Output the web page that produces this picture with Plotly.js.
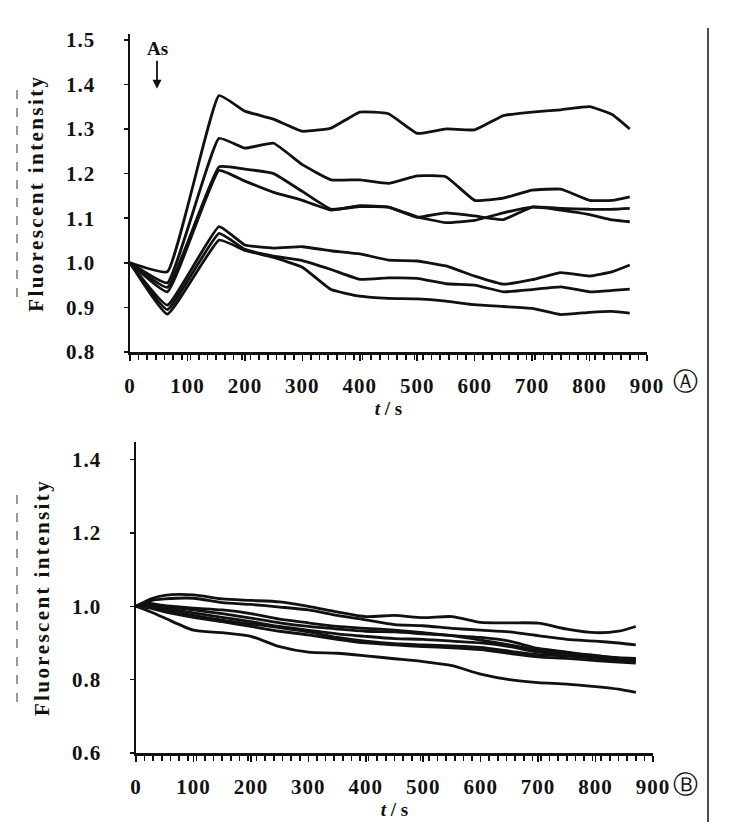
<!DOCTYPE html>
<html>
<head>
<meta charset="utf-8">
<script src="https://cdn.plot.ly/plotly-3.0.1.min.js"></script>
<style>
html,body{margin:0;padding:0;background:#fff;}
#chart{width:729px;height:840px;}
#chart text.ytitle, #chart text.y2title {letter-spacing: 2.4px;}
#chart .xtick text, #chart .x2tick text, #chart .ytick text, #chart .y2tick text {letter-spacing: 1px;}
</style>
</head>
<body>
<div id="chart"></div>
<script>
// ---- Panel A (arsenic added) ----
const tA = [0, 65, 155, 200, 250, 300, 350, 400, 450, 500, 550, 600, 650, 700, 750, 800, 840, 870];
const a1 = [1.0, 0.98, 1.375, 1.34, 1.322, 1.295, 1.302, 1.338, 1.334, 1.29, 1.30, 1.298, 1.33, 1.338, 1.343, 1.35, 1.332, 1.30];
const a2 = [1.0, 0.955, 1.279, 1.257, 1.268, 1.22, 1.186, 1.186, 1.178, 1.195, 1.193, 1.14, 1.145, 1.163, 1.165, 1.14, 1.14, 1.148];
const a3 = [1.0, 0.945, 1.215, 1.21, 1.20, 1.16, 1.12, 1.126, 1.125, 1.102, 1.112, 1.105, 1.097, 1.125, 1.118, 1.108, 1.096, 1.092];
const a4 = [1.0, 0.935, 1.207, 1.183, 1.158, 1.14, 1.118, 1.128, 1.125, 1.103, 1.09, 1.095, 1.112, 1.125, 1.122, 1.12, 1.12, 1.122];
const a5 = [1.0, 0.905, 1.081, 1.04, 1.033, 1.036, 1.027, 1.02, 1.006, 1.004, 0.993, 0.97, 0.952, 0.962, 0.978, 0.97, 0.98, 0.995];
const a6 = [1.0, 0.895, 1.066, 1.03, 1.015, 1.005, 0.985, 0.963, 0.966, 0.965, 0.953, 0.95, 0.935, 0.94, 0.946, 0.935, 0.938, 0.941];
const a7 = [1.0, 0.885, 1.051, 1.028, 1.012, 0.99, 0.94, 0.925, 0.92, 0.919, 0.914, 0.906, 0.902, 0.898, 0.884, 0.889, 0.891, 0.887];
const seriesA = [a1, a2, a3, a4, a5, a6, a7];

// ---- Panel B (control) ----
const tB = [0, 25, 50, 100, 150, 200, 250, 300, 350, 400, 450, 500, 550, 600, 650, 700, 750, 800, 840, 870];
const b1 = [1.0, 1.02, 1.03, 1.031, 1.02, 1.016, 1.012, 1.0, 0.985, 0.972, 0.975, 0.969, 0.972, 0.956, 0.955, 0.954, 0.938, 0.928, 0.932, 0.945];
const b2 = [1.0, 1.015, 1.02, 1.022, 1.01, 1.005, 0.998, 0.99, 0.975, 0.963, 0.95, 0.947, 0.94, 0.935, 0.93, 0.92, 0.91, 0.905, 0.9, 0.895];
const b3 = [1.0, 1.008, 1.0, 0.99, 0.98, 0.968, 0.955, 0.945, 0.938, 0.932, 0.93, 0.925, 0.92, 0.915, 0.905, 0.885, 0.875, 0.865, 0.86, 0.858];
const b4 = [1.0, 1.0, 0.995, 0.982, 0.97, 0.958, 0.945, 0.935, 0.925, 0.918, 0.912, 0.91, 0.905, 0.9, 0.89, 0.875, 0.868, 0.86, 0.855, 0.852];
const b5 = [1.0, 0.998, 0.99, 0.975, 0.962, 0.952, 0.942, 0.93, 0.915, 0.905, 0.898, 0.895, 0.892, 0.888, 0.878, 0.868, 0.865, 0.858, 0.852, 0.85];
const b6 = [1.0, 1.005, 1.002, 0.995, 0.99, 0.98, 0.965, 0.955, 0.945, 0.94, 0.935, 0.928, 0.92, 0.908, 0.895, 0.88, 0.872, 0.866, 0.858, 0.855];
const b7 = [1.0, 0.995, 0.985, 0.97, 0.958, 0.945, 0.932, 0.922, 0.91, 0.9, 0.895, 0.89, 0.887, 0.882, 0.872, 0.862, 0.858, 0.852, 0.848, 0.845];
const b8 = [1.0, 0.985, 0.968, 0.935, 0.928, 0.918, 0.89, 0.875, 0.872, 0.865, 0.857, 0.849, 0.838, 0.815, 0.8, 0.792, 0.788, 0.781, 0.774, 0.765];
const seriesB = [b1, b2, b3, b4, b5, b6, b7, b8];

const xTicks = [0, 100, 200, 300, 400, 500, 600, 700, 800, 900];
const yTicksA = [0.8, 0.9, 1.0, 1.1, 1.2, 1.3, 1.4, 1.5];
const yTicksB = [0.6, 0.8, 1.0, 1.2, 1.4];
const yTitle = 'Fluorescent intensity';
const xTitle = '<i>t</i> / s';

const W = 729, H = 840;
const px = v => v / W;
const py = v => 1 - v / H;

const ink = '#111';
const traces = [];
seriesA.forEach((s, i) => traces.push({
  x: tA, y: s, xaxis: 'x', yaxis: 'y', mode: 'lines', name: 'A' + (i + 1),
  line: {color: ink, width: 2.8, shape: 'spline', smoothing: 0.35}, hoverinfo: 'skip'
}));
seriesB.forEach((s, i) => traces.push({
  x: tB, y: s, xaxis: 'x2', yaxis: 'y2', mode: 'lines', name: 'B' + (i + 1),
  line: {color: ink, width: 2.8, shape: 'spline', smoothing: 0.7}, hoverinfo: 'skip'
}));

const tickFont = {family: 'Liberation Serif, serif', size: 21, color: ink, weight: 'bold'};
const titleFont = {family: 'Liberation Serif, serif', size: 21, color: ink, weight: 'bold'};

function xAxis(anchor, domain) {
  return {
    anchor: anchor, domain: domain, range: [0, 900], tickvals: xTicks,
    ticktext: xTicks.map(String), showgrid: false, zeroline: false,
    showline: true, linecolor: ink, linewidth: 2.5, ticks: 'outside', ticklen: 6,
    tickwidth: 1.5, tickcolor: ink, ticklabelstandoff: 7, tickfont: tickFont,
    minor: {dtick: 15, ticks: 'outside', ticklen: 5, tickwidth: 1.6, tickcolor: ink, showgrid: false},
    title: {text: xTitle, font: {family: 'Liberation Serif, serif', size: 19, color: ink, weight: 'bold'}, standoff: 0}
  };
}
function yAxis(anchor, domain, range, ticks) {
  return {
    anchor: anchor, domain: domain, range: range, tickvals: ticks,
    ticktext: ticks.map(v => v.toFixed(1)), showgrid: false, zeroline: false,
    showline: true, linecolor: ink, linewidth: 2.5, ticks: 'outside', ticklen: 4,
    tickwidth: 1.5, tickcolor: ink, ticklabelstandoff: 24, tickfont: tickFont,
    title: {text: yTitle, font: titleFont, standoff: 20}
  };
}

const layout = {
  width: W, height: H, margin: {l: 0, r: 0, t: 0, b: 0},
  paper_bgcolor: '#fff', plot_bgcolor: '#fff', showlegend: false,
  xaxis: xAxis('y', [px(130), px(647)]),
  yaxis: yAxis('x', [py(352), py(34.4)], [0.8, 1.512], yTicksA),
  xaxis2: xAxis('y2', [px(136), px(653)]),
  yaxis2: yAxis('x2', [py(753), py(442)], [0.6, 1.448], yTicksB),
  annotations: [
    {xref: 'x', yref: 'y', x: 47, y: 1.39, text: 'As', showarrow: true, arrowhead: 2,
     arrowsize: 1, arrowwidth: 1.8, arrowcolor: ink, ax: 0, ay: -40,
     font: {family: 'Liberation Serif, serif', size: 19, color: ink, weight: 'bold'}},
    {xref: 'paper', yref: 'paper', x: px(700), y: py(382), text: 'Ⓐ', showarrow: false,
     font: {family: 'DejaVu Sans, sans-serif', size: 25, color: ink}},
    {xref: 'paper', yref: 'paper', x: px(700), y: py(801), text: 'Ⓑ', showarrow: false,
     font: {family: 'DejaVu Sans, sans-serif', size: 25, color: ink}}
  ],
  shapes: [
    {type: 'line', xref: 'paper', yref: 'paper', x0: px(17), x1: px(17), y0: py(90), y1: py(302),
     line: {color: '#333', width: 1, dash: 'dash'}},
    {type: 'line', xref: 'paper', yref: 'paper', x0: px(17), x1: px(17), y0: py(495), y1: py(705),
     line: {color: '#333', width: 1, dash: 'dash'}},
    {type: 'line', xref: 'paper', yref: 'paper', x0: px(708), x1: px(708), y0: py(28), y1: py(822),
     line: {color: ink, width: 1.5}}
  ]
};

Plotly.newPlot('chart', traces, layout, {displayModeBar: false, staticPlot: true});
</script>
</body>
</html>
